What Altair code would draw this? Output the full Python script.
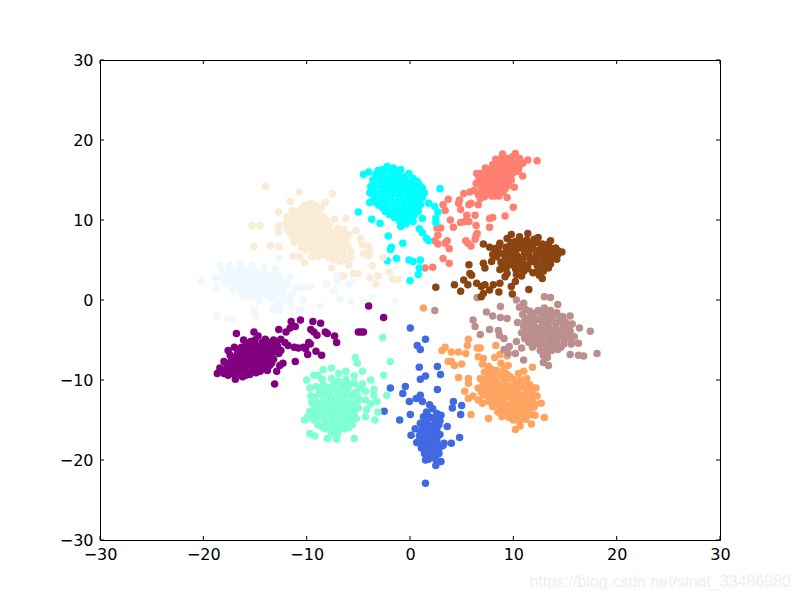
import altair as alt
import pandas as pd

cyan = [(-5,11),(-3.7,10.1),(-2.9,9.6),(-2.1,8),(-1.8,6.6),(-1.9,6.3),(-.7,7.1),(-2.2,4.9),(-1.3,5.2),(-.1,5),(.3,4.8),(0,2.4),(-4.5,15.7),(-4,16),
(2.9,13.9),(1.8,12.1),(2.4,11.7),(2.7,11),(2.5,10.2),(2.5,9.7),(1.2,10.2),(.9,8.9),(1.2,8.4),(1.6,7.7),(1.8,7.4),(1,5),(.9,4),(.8,3.2),(-3.9,12.2),(-3.2,12.1),
(-2.2,16.7),(-1.6,16.5),(-3.1,16.2),(-.9,16.3),(-2,16.2),(-3.3,15.7),(-2.5,15.6),(-1.7,15.9),(-.9,15.5),(-.1,15.8),(.3,15.2),
(-3.6,15),(-2.8,15.1),(-2,14.9),(-1.2,15.1),(-.4,14.8),(.4,14.9),(-3.8,14.2),(-3,14.4),(-2.2,14.1),(-1.4,14.3),(-.6,14),(.2,14.2),(.9,14.4),
(-3.9,13.4),(-3.1,13.3),(-2.3,13.6),(-1.5,13.3),(-.7,13.5),(.1,13.3),(.9,13.6),(1.4,13.4),(-3.5,12.7),(-2.7,12.6),(-1.9,12.8),(-1.1,12.5),(-.3,12.7),(.5,12.5),(1.2,12.8),
(-3,11.8),(-2.2,11.9),(-1.4,11.7),(-.6,11.9),(.2,11.7),(1,11.9),(-2.4,11.1),(-1.6,11),(-.8,11.2),(0,11),(.8,11.1),(-1.5,10.3),(-.7,10.2),(.1,10.4),(-.4,9.5),(-.9,9.2),(.3,9.8),
(-2.6,16.3),(-1.2,15.9),(-.5,15.4),(-3,15.5),(-2.3,15.3),(-1.6,15.4),(-.8,14.6),(0,14.5),(-3.4,14.6),(-2.6,14.6),(-1.8,14.6),(-1,14.5),(.7,14.8),(-3.5,13.8),(-2.7,13.9),(-1.9,13.7),(-1.1,13.9),(-.3,13.8),(.5,13.8),(1.2,14),(-3.4,13),(-2.6,13),(-1.8,13.2),(-1,13),(-.2,13),(.5,13),(1.2,13.1),(-3.1,12.3),(-2.3,12.3),(-1.5,12.2),(-.7,12.2),(.1,12.2),(.8,12.2),(-2.6,11.5),(-1.8,11.5),(-1,11.5),(-.2,11.4),(.6,11.5),(-2,10.7),(-1.2,10.6),(-.4,10.7),(.4,10.6),(-1,9.9),(-.2,10)]

salmon = [(3.7,12.6),(3.2,11.9),(3.4,11.2),(3.9,10),(4.2,9.1),(5.2,13.3),(5.8,13.5),(4.8,12.5),(4.7,12.1),(4.9,11.3),(5.7,11.9),(5.9,12.1),(6.6,11.9),(6.8,12.7),(5.5,10.6),(4.9,9.7),(5.3,9.8),(5.7,9.8),(6.3,10.6),(6.4,9.3),(7.7,9.1),(7.7,10.2),(8,10.3),(9.2,10.5),(10,11.6),(9.4,12.8),(10.1,14.1),(10.9,15.5),(12.3,17.4),(6.4,8.1),(6.5,8.3),(6.3,7.6),(5.4,7.4),(5.6,7.1),(5.9,6.75),(3.6,7.4),(3.4,7.1),(3.8,6.4),(2.6,9),(2.97,9),(2.7,8.1),(2.4,7.4),(2.7,7),(3.2,5.2),(3.8,4.6),(2.2,4.1),(1.45,4),
(6.45,15.8),(7.3,16.5),(8.3,17.6),(8.96,18.25),(10.2,18.3),(11.4,17.5),(10.6,17.7),(6.4,14.6),(7,14.9),(7.6,15.2),(8.2,15.5),(8.8,15.9),(9.4,16.3),(10,16.7),(6.9,14),(7.5,14.4),(8.1,14.7),(8.7,15),(9.3,15.4),(9.9,15.8),(10.4,16.1),(7.4,13.6),(8,13.9),(8.6,14.2),(9.2,14.6),(9.8,15),(6.2,13.7),(6.6,13.2),(7.2,12.9),(7.9,13),(8.6,13),(9,13.5),(7.3,15.7),(7.9,16.1),(8.5,16.5),(9.1,16.9),(9.7,17.3),(10.3,17.2),(8,16.9),(8.7,17.2),(9.3,17.7),(9.9,17.9),(10.6,16.8),
(6.7,15.2),(7.1,15.3),(7.7,15.7),(8.3,16.1),(8.9,16.4),(9.5,16.8),(10.1,17.2),(7.2,14.5),(7.8,14.9),(8.4,15.1),(9,15.5),(9.6,15.9),(7.7,14),(8.3,14.3),(8.9,14.7),(9.5,15),(7.1,13.5),(7.7,13.4),(8.3,13.5),(8.8,13.9),(9.5,14.3),(9.2,13.9),(8.2,13),(8.9,17.8),(9.6,17.7),(10.5,16.3),(8.6,17.1),(6.8,15.8),(7.6,16.3),(8.2,16.6),(10.9,17.1)]

brown = [(5.7,4.4),(2.5,1.6),(4.3,1.9),(4.9,1.1),(5.2,2.5),(5.8,3.3),(5.96,3.1),(5.6,1.9),(6.45,2.1),(6.9,1.7),(7.25,1.9),(7.1,.8),(6.9,.4),(7.7,1.25),(8.06,1.9),(8.7,2.1),(8.6,1),(9.8,1.7),(10.2,2.3),(9.9,.75),(11.5,1.3),(12.8,2.7),(7.1,7),(7.7,6.6),(7.1,4.6),(7.25,4),(8.7,7.1),(9.4,7.7),(9.8,8.2),(10.6,7.9),(11.4,8.3),(12.4,7.8),(13.6,7.4),(14.7,6),(14.2,5.1),(13.6,4.5),(10.8,3),(9.4,3.3),(9.2,2.9),(9.8,7.2),(10.2,7.3),(7.9,4.8),
(8.5,6.1),(8.4,5.4),(8.8,4.7),(9,5.8),(9.3,6.6),(9.6,5.2),(9.9,6.2),(9.7,4.4),(10.2,3.9),(10.4,5.5),(10.7,6.6),(10.6,4.7),(11,3.6),(11.1,5.8),(11.3,7),(11.4,4.4),(11.6,5.2),(11.9,6.4),(11.9,3.4),(12.2,7.2),(12.2,5.6),(12.3,4.3),(12.7,6.6),(12.8,5.1),(12.9,3.6),(13.2,6),(13.4,7),(13.4,4.9),(13.8,5.8),(14.1,6.5),(14.3,5.7),(10.3,6.9),(11,4.3),(10,4.9),(12.5,3.1),(8,5.7),(8.7,3.8),(9.3,3.9),
(8.6,6.7),(9.2,5.1),(9.3,6),(9.7,6.8),(10,5.6),(10.3,4.6),(10.3,6.3),(10.9,5.1),(11,6.3),(10.7,3.9),(11.3,6.6),(11.4,3.9),(11.5,5.8),(11.8,4.8),(11.8,7),(12.2,4.9),(12.3,6.2),(12.4,3.7),(12.8,5.8),(12.8,7),(12.9,4.4),(13.3,5.4),(13.3,6.5),(13.4,4),(13.8,6.4),(13.9,5.2),(14.3,6.2),(10.7,7.3),(11.3,7.5),(12,7.6),(9.1,4.3),(9.6,5.8),(8.2,6.4),(10.3,3.2)]

rosy = [(2.4,-1.3),(6.5,.3),(8.75,-.8),(7.4,-1.5),(8,-2),(8.75,-2.2),(9.4,-2.3),(6.1,-2.5),(6.3,-3.3),(6.8,-4.3),(7.7,-3.7),(8.55,-3.8),(8.65,-4.4),(9.1,-4.8),(10.3,-5.2),(9.1,-6.2),(9.6,-5.8),(9.5,-6.7),(10.2,-6.7),(11,-7.5),(11.85,-5.9),(10.8,-6),(12.9,-7.8),(13.4,-8.2),(15.5,-6.8),(16.3,-6.9),(16.8,-7),(18.1,-6.7),(17.45,-3.9),(16.4,-3.5),(16.3,-5.4),(13,.4),(13.6,.3),(14.3,-.55),(10.3,0),(11,-.4),(10.4,-2.8),(15.5,-2),(10.6,-.9),(11.2,-1.2),(10.9,-1.8),
(11.1,-2.6),(11.7,-2),(12.4,-1.3),(13,-1),(13.6,-1.3),(14.2,-1.6),(14.8,-2.1),(11,-3.3),(11.6,-2.9),(12.3,-2.4),(13,-2),(13.7,-2.2),(14.4,-2.6),(15.1,-2.8),(15.7,-3),(10.8,-4.1),(11.4,-3.8),(12.1,-3.4),(12.8,-3),(13.4,-3.3),(14.1,-3.5),(14.8,-3.6),(15.5,-3.9),(11.1,-4.8),(11.8,-4.5),(12.5,-4.1),(13.2,-4.2),(13.9,-4.4),(14.6,-4.5),(15.3,-4.7),(15.9,-4.6),(12.1,-5.2),(12.8,-5.1),(13.5,-5.3),(14.2,-5.4),(14.9,-5.5),(15.6,-5.5),(13,-6),(13.7,-6.3),(14.3,-6.2),(12.9,-6.9),(13.3,-7.2),(11.5,-5.3),
(12,-1.7),(12.7,-1.6),(13.3,-1.6),(13.9,-1.8),(14.5,-2.1),(11.3,-2.3),(12,-2.7),(12.7,-2.5),(13.4,-2.7),(14.1,-2.9),(14.8,-3.1),(15.4,-3.3),(11.3,-3.4),(11.8,-3.3),(12.5,-3.5),(13.1,-3.7),(13.8,-3.9),(14.4,-4),(15.2,-4.2),(11.2,-4.3),(12,-4),(12.8,-4.6),(13.5,-4.8),(14.2,-4.9),(14.9,-5),(15.6,-5.1),(11.7,-4.9),(12.4,-4.7),(12.5,-5.6),(13.2,-5.7),(13.9,-5.9),(14.6,-5.9),(13.3,-6.5),(12.6,-6.3),(11.6,-1.4)]

orange = [(1.3,-1),(5.65,-4.9),(5.55,-5.7),(3.4,-5.9),(3.1,-6.3),(4,-6.5),(4.7,-6.5),(5.4,-6.7),(6.5,-6),(6.8,-6),(8.3,-5.7),(3.7,-7.7),(4.3,-8.2),(5,-8),(4,-7.7),(4.7,-9.7),(5.65,-9.8),(5.65,-10.4),(5.3,-11.4),(5.65,-12.3),(5.9,-14.3),(7.6,-14.8),(13,-14.7),(10.2,-16.2),(10.65,-15.75),(11.75,-15.5),(12.7,-12.9),(11.85,-8.4),(11,-8.9),(10.5,-9.2),(6.6,-7.1),(7.1,-7.3),(8.2,-7.2),(8.7,-6.8),(9.4,-7),(6.1,-12),(6.6,-12.5),(7,-12.9),(12.3,-12),(12.2,-11),
(7,-8),(7.6,-8.3),(7.2,-9),(7.8,-9.2),(8.8,-7.9),(9.5,-8.2),(6.8,-9.8),(7.4,-10),(8.1,-10.1),(8.8,-9.4),(9.4,-9.3),(10,-9.9),(6.6,-11),(7.2,-10.9),(7.9,-11),(8.6,-10.6),(9.3,-10.3),(10,-10.8),(10.7,-10),(11.3,-9.8),(7.4,-11.8),(8.1,-11.7),(8.8,-11.6),(9.5,-11.3),(10.2,-11.5),(10.9,-10.9),(11.6,-10.6),(7.6,-12.7),(8.3,-12.5),(9,-12.4),(9.7,-12.2),(10.4,-12.3),(11.1,-11.9),(11.8,-11.6),(8,-13.3),(8.7,-13.2),(9.4,-13.1),(10.1,-13),(10.8,-12.9),(11.5,-12.7),(8.5,-14),(9.2,-14),(9.9,-13.9),(10.6,-13.7),(11.3,-13.6),(12,-13.4),(9.6,-14.7),(10.3,-14.6),(11,-14.4),(11.7,-14.3),(8.9,-14.6),(12.1,-14.4),(10.6,-15.2),
(7.5,-9.6),(8.4,-8.8),(9.1,-9.8),(9.7,-9.6),(10.4,-10.4),(7.1,-10.4),(7.8,-10.5),(8.4,-10.2),(9,-10.9),(9.6,-10.8),(10.4,-11),(11,-10.4),(6.9,-11.5),(7.6,-11.4),(8.3,-11.2),(9,-12),(9.9,-11.7),(10.6,-11.8),(11.3,-11.2),(11.9,-11),(7.9,-12.3),(8.6,-12.1),(9.3,-11.9),(10,-12.6),(10.7,-12.4),(11.4,-12.3),(11.9,-12.2),(8.3,-13),(9,-12.8),(9.7,-13.5),(10.4,-13.4),(11.1,-13.3),(11.7,-13.1),(8.8,-13.6),(9.5,-14.4),(10.2,-14.2),(10.9,-14),(11.5,-14),(12.1,-13),(10,-15),(11.2,-14.9),(7.1,-11.9),(8.1,-9.5),(9.1,-8.6),(7.9,-8.7)]

royal = [(.03,-3.5),(1.5,-4.9),(.7,-5.7),(1,-6.2),(.9,-8.4),(2.65,-8.3),(2.95,-9.3),(1.5,-9.5),(1,-9.9),(-1.9,-11),(-.45,-10.8),(-.7,-11.7),(2.65,-11.2),(.6,-12.3),(1,-11.9),(1.2,-12.7),(-.06,-12.7),(4.2,-12.7),(4.1,-13.5),(5,-13.2),(4.9,-14.3),(-2.5,-13.9),(.03,-14.3),(-1,-15),(4.8,-17.2),(4,-17.9),(1.5,-22.9),(1.5,-20),(2.5,-20.7),(3,-20.2),(3.6,-15.8),(.1,-16.9),(.65,-17.8),
(1.9,-13.1),(2.2,-13.6),(1.6,-14),(2.6,-14.2),(3,-14.4),(1.3,-14.6),(2,-14.7),(2.9,-15.1),(1,-15.4),(1.7,-15.5),(2.4,-15.4),(.5,-16.1),(1.2,-16.2),(1.9,-16.3),(2.6,-16.1),(.9,-17),(1.6,-17.1),(2.3,-17.1),(2.9,-16.8),(1.2,-17.8),(1.9,-17.8),(2.6,-17.9),(3.3,-17.9),(1.1,-18.5),(1.8,-18.6),(2.5,-18.6),(1.4,-19.2),(2.1,-19.3),(2.8,-19.2),(1.8,-19.9),(2.5,-19.9),(3.2,-18.2),
(1.7,-14.4),(2.4,-14.8),(1.4,-15.1),(2.1,-15.9),(1.5,-15.9),(2.8,-15.6),(1,-16.5),(1.6,-16.6),(2.3,-16.6),(1.3,-17.4),(1.9,-17.4),(2.6,-17.5),(1.5,-18.2),(2.2,-18.2),(2.9,-18.4),(1.7,-19),(2.4,-19.2),(2.1,-19.7)]

aqua = [(-5.3,-7.2),(-5.1,-7.9),(-2.65,-4.7),(-1.9,-7.7),(-2.55,-9.4),(-2.25,-11.9),(-3.1,-14),(-3.4,-15),(-8.4,-8.7),(-7.6,-8.5),(-6.2,-8.9),(-4.6,-8.9),(-3.8,-10),(-3.5,-11.2),(-3.5,-11.9),(-3.2,-12.7),(-3.8,-13),(-4.3,-14.6),(-9.7,-16.7),(-9.2,-17),(-8,-17.3),(-7.1,-17.4),(-5.4,-17.3),(-10.2,-15),(-10,-10),(-9.3,-9.4),(-9.7,-11),(-8.9,-9.4),(-8.5,-9.9),(-6.9,-9.2),(-5.4,-9.5),(-4.6,-10.5),(-4.3,-11.4),(-4.3,-12.5),(-4.2,-13.7),(-9.6,-12),
(-9.1,-10.8),(-8.4,-10.6),(-7.6,-9.8),(-6.9,-10.2),(-6.2,-9.9),(-5.4,-10.4),(-4.9,-11),(-9.5,-12.8),(-8.8,-11.7),(-8.1,-11.4),(-7.4,-11),(-6.7,-11.2),(-6,-11),(-5.3,-11.6),(-9.7,-13.9),(-9,-12.9),(-8.3,-12.4),(-7.6,-12.2),(-6.9,-12.1),(-6.2,-12),(-5.5,-12.6),(-4.9,-12.5),(-9.9,-14.6),(-9.2,-14),(-8.5,-13.5),(-7.8,-13.2),(-7.1,-13.1),(-6.4,-13),(-5.7,-13.5),(-5,-13.5),(-9.3,-15),(-8.6,-14.6),(-7.9,-14.3),(-7.2,-14.1),(-6.5,-14),(-5.8,-14.4),(-5.2,-14.8),(-8.9,-15.6),(-8.2,-15.3),(-7.5,-15.2),(-6.8,-15),(-6.1,-15.2),(-5.6,-15.6),(-8.2,-16.1),(-7.5,-16.1),(-6.8,-16),(-6.3,-16.1),(-7.6,-16.7),(-7,-16.7),
(-8.7,-11.2),(-8,-10.9),(-7.3,-10.4),(-6.5,-10.6),(-5.8,-10.5),(-5.1,-12),(-9.2,-12.2),(-8.4,-11.9),(-7.8,-11.7),(-7,-11.6),(-6.3,-11.5),(-5.7,-11.9),(-9.2,-13.4),(-8.6,-12.9),(-7.9,-12.7),(-7.3,-12.6),(-6.6,-12.5),(-5.9,-12.9),(-5.3,-13.1),(-9.5,-14.3),(-8.8,-14.1),(-8.2,-13.8),(-7.5,-13.7),(-6.8,-13.6),(-6.1,-13.7),(-5.4,-14.1),(-9,-14.7),(-8.3,-14.9),(-7.6,-14.7),(-6.9,-14.6),(-6.2,-14.8),(-5.6,-15),(-8.6,-15.8),(-7.9,-15.7),(-7.2,-15.6),(-6.5,-15.6),(-5.9,-15.9),(-7.3,-16.4)]

purple = [(-4,-.75),(-2.55,-2.2),(-4.75,-4),(-4.5,-4),(-5,-4),(-7.3,-4.5),(-7.1,-5.3),(-8.2,-4),(-8,-4.2),(-8.65,-2.9),(-9.4,-2.7),(-9.6,-3.7),(-9.3,-4),(-9,-4.4),(-10.6,-2.5),(-11.5,-2.7),(-11.1,-3.3),(-11.6,-3.5),(-12,-4),(-12.7,-3.7),(-9.8,-5.3),(-9.65,-5.5),(-10.3,-5.9),(-9.9,-6.8),(-9.1,-6.4),(-8.55,-6.9),(-11.1,-7.7),(-12.3,-7.9),(-12.6,-8.2),(-12.9,-8.9),(-13.1,-10.5),(-16.8,-4.2),(-15.1,-4),(-18.65,-9.2),(-16.9,-9.9),(-17.6,-6.3),(-11.8,-5.7),(-11.2,-5.9),(-10.8,-6),(-10.1,-6.1),
(-16.1,-5),(-15.4,-5.2),(-14.7,-4.5),(-14,-4.9),(-13.2,-5),(-12.5,-4.9),(-12.1,-5.3),(-17,-5.9),(-16.3,-5.9),(-15.6,-5.9),(-14.9,-5.7),(-14.2,-5.8),(-13.5,-5.8),(-12.8,-5.8),(-17.4,-6.9),(-16.7,-6.7),(-16,-6.7),(-15.3,-6.6),(-14.6,-6.5),(-13.9,-6.6),(-13.2,-6.5),(-12.7,-6.7),(-18,-7.7),(-17.3,-7.6),(-16.6,-7.5),(-15.9,-7.4),(-15.2,-7.3),(-14.5,-7.3),(-13.8,-7.4),(-13.2,-7.4),(-18.4,-8.5),(-17.7,-8.4),(-17,-8.3),(-16.3,-8.2),(-15.6,-8.1),(-14.9,-8.1),(-14.2,-8.2),(-13.6,-8.2),(-18,-9.2),(-17.3,-9.2),(-16.6,-9),(-15.9,-9),(-15.2,-8.9),(-14.5,-8.9),(-13.8,-8.8),(-16.2,-9.6),(-15.5,-9.3),
(-15.8,-5.4),(-15,-5),(-14.3,-5.3),(-13.6,-5.3),(-12.9,-5.3),(-16.6,-6.3),(-15.9,-6.2),(-15.2,-6.1),(-14.5,-6.1),(-13.8,-6.1),(-13.1,-6.1),(-12.5,-6.3),(-17.1,-7.2),(-16.3,-7.1),(-15.6,-7),(-14.9,-6.9),(-14.2,-6.9),(-13.5,-6.9),(-17.7,-8),(-17,-7.9),(-16.2,-7.8),(-15.5,-7.7),(-14.8,-7.7),(-14.1,-7.8),(-13.4,-7.9),(-18,-8.8),(-17.3,-8.7),(-16.7,-8.6),(-16,-8.6),(-15.3,-8.5),(-14.6,-8.5),(-13.9,-8.5),(-17.6,-9.4),(-16.9,-9.4),(-15.9,-9.4),(-14.9,-9.1)]

beige = [(-14,14.2),(-10.7,13.5),(-7.5,13.3),(-8.2,12.2),(-11.6,12.3),(-12.7,11),(-15.3,9.3),(-14.5,9.3),(-12.7,9.3),(-12.75,8.5),(-15.1,6.7),(-13.5,6.8),(-12.7,6.7),(-6.2,10.2),(-7.3,10.1),(-5.2,8.7),(-4.8,7.7),(-4.6,6.9),(-4,6.7),(-3.9,6),(-4.5,5.8),(-4,5.5),(-2.6,5.3),(-3.65,4.3),(-5.9,4.3),(-5.7,5.3),(-5.7,6),(-7.6,4),(-2,3.5),(-3.1,3),(-3.9,2.8),(-3.3,2),(-1.7,2.6),(-1.2,2.6),(-6.75,3),(-6.4,3),(-5.5,3.3),(-5,3.3),(-10.2,4.7),(-11.3,5.5),(-10.65,5.4),(-9.5,5.4),(-8.8,5.5),(-8.1,5.6),(-7.4,5),(-6.9,4.8),(-6.3,5),
(-10.1,11.9),(-9.5,12.1),(-8.9,11.3),(-11.4,11.2),(-10.7,11.2),(-10,11),(-9.3,11.1),(-8.6,11.5),(-11.9,10.4),(-11.2,10.4),(-10.5,10.3),(-9.8,10.2),(-9.1,10.3),(-8.4,10.4),(-12,9.6),(-11.3,9.6),(-10.6,9.5),(-9.9,9.4),(-9.2,9.4),(-8.5,9.5),(-7.8,9.4),(-11.9,8.8),(-11.2,8.8),(-10.5,8.7),(-9.8,8.6),(-9.1,8.6),(-8.4,8.7),(-7.7,8.6),(-7,9),(-6.4,8.8),(-11.4,8),(-10.7,7.9),(-10,7.8),(-9.3,7.8),(-8.6,7.9),(-7.9,7.8),(-7.2,7.9),(-6.5,8),(-5.9,8.2),(-11.2,7.2),(-10.4,7),(-9.7,7),(-9,7),(-8.3,7),(-7.6,7),(-6.9,7.1),(-6.3,7.2),(-10.1,6.3),(-9.4,6.2),(-8.7,6.2),(-8,6.2),(-7.3,6.2),(-6.6,6.4),(-9.1,5.7),(-7.8,5.3),(-7.1,5.6),(-6.4,5.7),
(-10.4,11.5),(-9.7,11.6),(-9.1,11.8),(-11,10.8),(-10.3,10.7),(-9.6,10.6),(-8.9,10.8),(-11.5,10),(-10.9,10),(-10.2,9.9),(-9.5,9.8),(-8.8,9.9),(-8.1,10),(-11.6,9.2),(-10.9,9.1),(-10.2,9.1),(-9.5,9),(-8.8,9),(-8.1,9.1),(-11.6,8.4),(-10.9,8.3),(-10.2,8.2),(-9.5,8.2),(-8.8,8.3),(-8.1,8.2),(-7.4,8.3),(-6.7,8.5),(-11,7.6),(-10.3,7.4),(-9.6,7.4),(-8.9,7.4),(-8.2,7.4),(-7.5,7.5),(-6.8,7.6),(-6.1,7.7),(-10.5,6.6),(-9.8,6.6),(-9.1,6.6),(-8.4,6.6),(-7.7,6.6),(-7,6.7),(-6,6.7),(-8.4,5.8),(-7.6,5.8),(-6.8,6)]

alice = [(-20.2,2.3),(-12.7,5.2),(-8.1,2),(-7.4,1.2),(-7.1,3.1),(-7,2.3),(-6,1.9),(-5.6,2.3),(-6.75,.1),(-5.7,-.2),(-4.5,-.2),(-3.6,.45),(-1.4,-.2),(-8.7,-.8),(-9.65,1.7),(-10.3,1.6),(-10.3,0),(-11.5,-.6),(-12.7,-.4),(-15.1,-1.25),(-13.2,-1),(-10.7,-1.25),(-18.75,-1.9),(-17.6,-2.4),(-17.2,-2.4),(-15,-1.5),(-14.9,-2),(-12.6,-1.25),(-13.3,-1.2),(-10.5,-1.25),(-18.8,2.8),(-18.7,1.6),(-18.4,4.4),(-17.5,4.4),(-16.4,4.4),(-15.3,4.4),(-14.1,4.1),(-13,3.9),(-11.6,2.9),(-11,1.5),(-11.4,.8),(-12,-.1),(-13.6,.2),(-14.6,-.2),
(-18.2,3.6),(-17.4,3.6),(-16.6,3.7),(-15.8,3.6),(-15,3.6),(-14.2,3.4),(-13.4,3.2),(-12.6,3),(-18.1,2.8),(-17.3,2.8),(-16.5,2.8),(-15.7,2.8),(-14.9,2.7),(-14.1,2.6),(-13.3,2.5),(-12.5,2.3),(-11.9,2.1),(-17.9,2.1),(-17.1,2),(-16.3,2),(-15.5,1.9),(-14.7,1.9),(-13.9,1.8),(-13.1,1.7),(-12.3,1.4),(-17.2,1.2),(-16.4,1.2),(-15.6,1.1),(-14.8,1.1),(-14,1),(-13.2,.9),(-12.4,.6),(-16.2,.5),(-15.4,.4),(-14.6,.4),(-13.8,.5),(-13,.1),(-11.7,.2),
(-17.8,3.2),(-17,3.2),(-16.2,3.2),(-15.4,3.2),(-14.6,3.1),(-13.8,3),(-13,2.9),(-17.7,2.4),(-16.9,2.4),(-16.1,2.4),(-15.3,2.3),(-14.5,2.3),(-13.7,2.2),(-12.9,2.1),(-16.7,1.6),(-15.9,1.5),(-15.1,1.5),(-14.3,1.4),(-13.5,1.3),(-12.7,1),(-15.8,.8),(-15,.8),(-14.2,.7),(-13.4,.5)]

groups = [("royalblue", royal), ("orange", orange), ("rosy", rosy), ("brown", brown), ("salmon", salmon),
          ("cyan", cyan), ("beige", beige), ("alice", alice), ("purple", purple), ("aqua", aqua)]
color_domain = [g[0] for g in groups]
color_range = ["#4169E1", "#FFA460", "#BC8F8F", "#8B4513", "#FF8072", "#00FFFF", "#FAEBD7", "#F0F8FF", "#800080", "#7FFFD4"]

rows = [{"x": x, "y": y, "k": name, "o": i} for i, (name, pts) in enumerate(groups) for x, y in pts]
df = pd.DataFrame(rows)
tick_values = [-30, -20, -10, 0, 10, 20, 30]
ticks = pd.DataFrame({"t": tick_values})

xs = alt.Scale(domain=[-30, 30], nice=False, zero=False)
ys = alt.Scale(domain=[-30, 30], nice=False, zero=False)

axis_common = dict(values=tick_values, title=None, grid=False, ticks=False, domain=False, labelFlush=False,
                   labelOverlap=False, labelFont="DejaVu Sans", labelFontSize=16, labelColor="black")

points = alt.Chart(df).mark_circle(size=56, opacity=1, clip=True).encode(
    x=alt.X("x:Q", scale=xs, axis=alt.Axis(labelPadding=6, **axis_common)),
    y=alt.Y("y:Q", scale=ys, axis=alt.Axis(labelPadding=7, **axis_common)),
    color=alt.Color("k:N", scale=alt.Scale(domain=color_domain, range=color_range), legend=None),
    order=alt.Order("o:Q"),
)

tick_base = alt.Chart(ticks).mark_rule(color="black", strokeWidth=1)
xb = tick_base.encode(x=alt.X("t:Q", scale=xs), y=alt.value(480), y2=alt.value(476))
xt = tick_base.encode(x=alt.X("t:Q", scale=xs), y=alt.value(0), y2=alt.value(4))
yl = tick_base.encode(y=alt.Y("t:Q", scale=ys), x=alt.value(0), x2=alt.value(4))
yr = tick_base.encode(y=alt.Y("t:Q", scale=ys), x=alt.value(620), x2=alt.value(616))

watermark = alt.Chart(pd.DataFrame({"s": ["https://blog.csdn.net/sinat_33486980"]})).mark_text(
    align="right", baseline="middle", font="Liberation Sans", fontSize=16, color="#eeeeee"
).encode(text="s:N", x=alt.value(691), y=alt.value(522))

chart = alt.layer(points, xb, xt, yl, yr, watermark).properties(
    width=620, height=480,
    autosize=alt.AutoSizeParams(type="none"),
    padding={"left": 92, "top": 52, "right": 72, "bottom": 52},
    background="white",
).configure_view(stroke="black", strokeWidth=1)

chart.save("out.html", embed_options={"renderer": "svg", "actions": False})
